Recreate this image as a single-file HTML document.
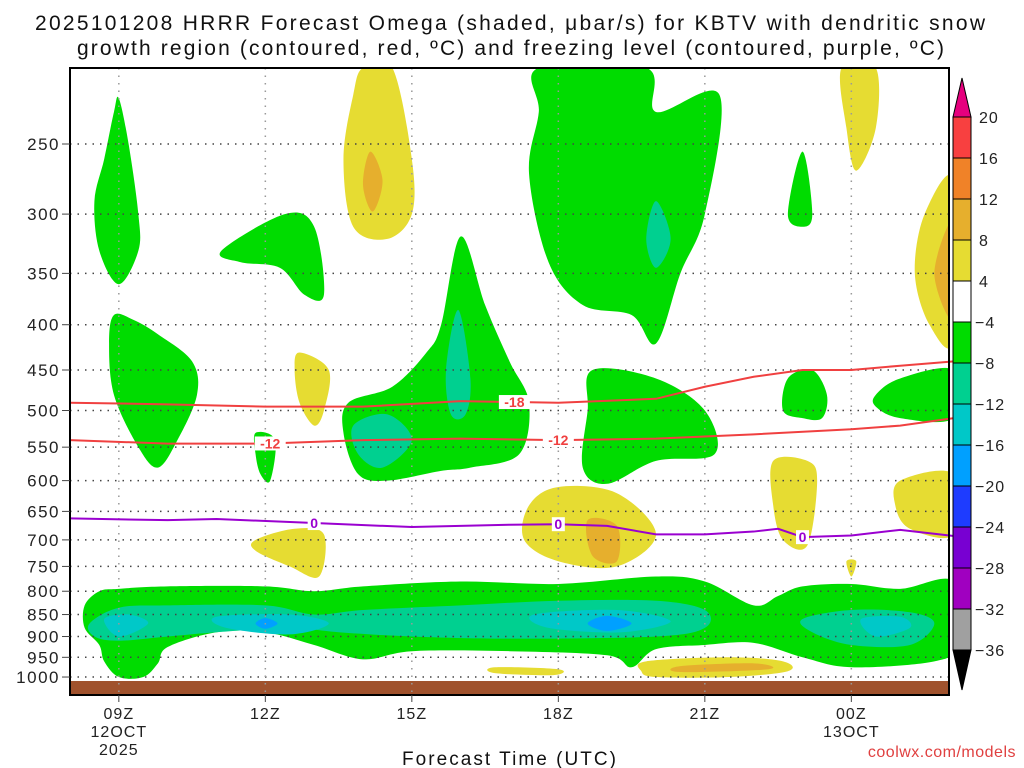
<!DOCTYPE html>
<html><head><meta charset="utf-8"><style>
html,body{margin:0;padding:0;background:#fff;}
svg{display:block;font-family:"Liberation Sans",sans-serif;}
</style></head><body>
<svg id="chart" width="1024" height="768" viewBox="0 0 1024 768">
<text x="35" y="30" textLength="950" lengthAdjust="spacing" font-size="21" fill="#111">2025101208 HRRR Forecast Omega (shaded, μbar/s) for KBTV with dendritic snow</text>
<text x="77" y="55" textLength="867" lengthAdjust="spacing" font-size="21" fill="#111">growth region (contoured, red, ºC) and freezing level (contoured, purple, ºC)</text>
<g id="fills"></g>
<rect x="70" y="681" width="879" height="14" fill="#a0522d"/>
<g id="grid"></g>
<g id="lines"></g>
<rect x="70" y="68" width="879" height="627" fill="none" stroke="#000" stroke-width="2"/>
<g id="axes"></g>
<g id="cbar"></g>
<text x="402" y="765" textLength="214" lengthAdjust="spacing" font-size="19" fill="#111">Forecast Time (UTC)</text>
<text x="1016" y="757" text-anchor="end" font-size="16" letter-spacing="0.5" fill="#e04040">coolwx.com/models</text>
</svg>
<script>
const pressureTicks=[250,300,350,400,450,500,550,600,650,700,750,800,850,900,950,1000];
const timeTicks=[9,12,15,18,21,24];
const timeLabels=["09Z","12Z","15Z","18Z","21Z","00Z"];
const cbarLevels=[20,16,12,8,4,-4,-8,-12,-16,-20,-24,-28,-32,-36];
const cbarColors=["#f84040","#f08228","#e6af2d","#e6dc32","#ffffff","#00dc00","#00d090","#00c8c8","#00a0ff","#1e3cff","#7800d2","#a000c0","#a0a0a0"];
const C={g:"#00dc00",t:"#00d090",c:"#00c8c8",b:"#00a0ff",y:"#e6dc32",o:"#e6af2d"};
const regions=[
["g",[[9.0,222],[9.2,250],[9.4,300],[9.4,330],[9.0,360],[8.6,330],[8.5,290],[8.7,260],[8.9,230]]],
["g",[[8.9,390],[9.3,395],[9.8,410],[10.5,440],[10.6,480],[10.2,540],[9.8,580],[9.4,550],[8.9,480],[8.8,420]]],
["g",[[11.1,330],[12.4,300],[13.0,310],[13.2,370],[12.8,370],[12.3,345],[11.5,340]]],
["y",[[14.0,205],[14.6,205],[15.0,260],[15.0,300],[14.5,320],[13.8,310],[13.6,260],[13.8,220]]],
["o",[[14.15,255],[14.4,275],[14.2,298],[14.0,278]]],
["g",[[16.0,318],[16.5,380],[17.0,440],[17.4,490],[17.2,560],[16.2,580],[15.6,585],[14.5,600],[13.9,590],[13.6,530],[13.7,490],[14.6,470],[15.3,430],[15.6,400]]],
["t",[[15.95,385],[16.2,460],[16.1,505],[15.8,505],[15.7,450]]],
["t",[[13.8,520],[14.5,505],[15.0,540],[14.4,580],[13.9,560]]],
["y",[[12.7,430],[13.3,450],[13.2,500],[13.0,520],[12.7,490],[12.6,450]]],
["g",[[11.8,530],[12.2,540],[12.1,600],[11.9,590],[11.8,560]]],
["g",[[17.6,205],[19.8,205],[20.0,230],[21.3,220],[21.0,300],[20.5,350],[20.0,420],[19.5,390],[18.5,380],[17.8,340],[17.4,270],[17.6,230]]],
["t",[[20.0,290],[20.3,320],[20.0,345],[19.8,320]]],
["y",[[23.8,205],[24.5,205],[24.5,240],[24.1,268],[23.9,240]]],
["g",[[23.0,255],[23.2,300],[23.0,310],[22.7,300]]],
["y",[[26.1,275],[25.5,300],[25.3,350],[25.6,400],[26.1,415]]],
["o",[[26.1,305],[25.7,350],[26.1,395]]],
["g",[[18.7,450],[20,460],[21.0,500],[21.2,560],[20.0,570],[19.0,605],[18.5,580],[18.6,500]]],
["g",[[22.7,460],[23.2,450],[23.5,480],[23.4,510],[23.0,510],[22.6,500]]],
["g",[[24.5,480],[25.0,460],[26.1,450],[26.1,510],[25,510],[24.5,495]]],
["y",[[22.4,570],[23.1,570],[23.3,600],[23.1,710],[22.6,700],[22.4,640]]],
["y",[[25.0,600],[26.1,590],[26.1,690],[25.2,680],[24.9,640]]],
["y",[[17.4,640],[18.0,610],[19.2,620],[20.0,690],[19.2,750],[18.0,740],[17.3,700]]],
["o",[[18.6,665],[19.2,675],[19.2,740],[18.7,730]]],
["y",[[11.8,700],[12.6,680],[13.2,690],[13.1,770],[12.5,750],[11.8,720]]],
["y",[[23.9,740],[24.1,740],[24.0,770]]],
["g",[[8.3,830],[8.6,800],[9.0,795],[10.0,790],[12.0,790],[13.0,800],[14.0,790],[16.0,780],[18.0,785],[20.0,770],[21.0,780],[22.0,830],[22.5,810],[23.0,790],[24,785],[25,795],[26.1,780],[26.1,920],[25.7,960],[24,975],[23,950],[22,915],[21,920],[20,930],[19.5,975],[19.0,945],[17,935],[15,935],[14,955],[13,920],[12,890],[11,890],[10,925],[9.8,965],[9.5,1000],[9,1000],[8.7,960],[8.6,920],[8.3,880]]],
["t",[[8.4,870],[9,835],[10,830],[12,830],[13,850],[14,840],[16,830],[18,820],[20,820],[21,840],[21,880],[20,900],[17,905],[15,900],[13.5,890],[12.5,880],[11,890],[10,900],[9,910],[8.5,900]]],
["t",[[23,860],[24,840],[25.2,845],[25.7,870],[25.2,920],[24,920],[23.2,890]]],
["c",[[8.7,860],[9.2,850],[9.6,870],[9,900]]],
["c",[[11,855],[12.5,850],[13.3,870],[12.5,895],[11.2,880]]],
["c",[[17.5,850],[19.2,840],[20.3,865],[19.3,890],[17.8,880]]],
["c",[[24.2,860],[25,855],[25.2,880],[24.5,900]]],
["b",[[12,858],[12.25,870],[12,882],[11.8,870]]],
["b",[[19.0,853],[19.5,870],[19.0,887],[18.6,870]]],
["y",[[16.7,975],[18.0,980],[17.9,995],[16.7,990]]],
["y",[[19.8,960],[21.5,950],[22.6,960],[22.7,985],[21.5,1000],[20,1000],[19.7,985]]],
["o",[[20.5,972],[22,965],[22.3,980],[20.5,987]]]
];
const hours18=[8,10,12,14,16,18,20,21,22,23,24,25,26.1];
const tm18=[490,492,495,495,488,490,485,470,458,450,450,445,440];
const hours12=[8,10,12,14,16,18,20,22,24,25,26.1];
const tm12=[540,545,545,540,538,540,538,532,525,520,510];
const hours0=[8,10,11,13,15,17,18,19,20,21,22,22.5,23,24,25,26.1];
const frz0=[662,665,663,670,677,673,672,675,690,690,685,680,695,692,682,693];

const X0=70,X1=949,H0=8,H1=26;
const xs=h=>X0+(h-H0)*(X1-X0)/(H1-H0);
const ys=p=>144+384.5*Math.log(p/250);
const NS="http://www.w3.org/2000/svg";
function mk(tag,attrs,parent){const e=document.createElementNS(NS,tag);for(const k in attrs)e.setAttribute(k,attrs[k]);parent.appendChild(e);return e;}
function closedPath(pts){
  const n=pts.length;let d="M"+pts[0][0]+","+pts[0][1];
  for(let i=0;i<n;i++){const p0=pts[(i-1+n)%n],p1=pts[i],p2=pts[(i+1)%n],p3=pts[(i+2)%n];
    d+=" C"+(p1[0]+(p2[0]-p0[0])/6)+","+(p1[1]+(p2[1]-p0[1])/6)+" "+(p2[0]-(p3[0]-p1[0])/6)+","+(p2[1]-(p3[1]-p1[1])/6)+" "+p2[0]+","+p2[1];}
  return d+"Z";}
const svg=document.getElementById('chart');
const defs=mk('defs',{},svg);
const cp=mk('clipPath',{id:'plotclip'},defs);mk('rect',{x:70,y:68,width:879,height:613},cp);
const fills=document.getElementById('fills');fills.setAttribute('clip-path','url(#plotclip)');
regions.forEach((r,i)=>{
  const pts=r[1].map(v=>[xs(v[0]),ys(v[1])]);
  const el=mk('path',{d:closedPath(pts),fill:C[r[0]]},fills);
  
  
});
const grid=document.getElementById('grid');
const axes=document.getElementById('axes');
pressureTicks.forEach(p=>{
  const y=ys(p);
  const g=mk('line',{x1:70,x2:949,y1:y,y2:y,stroke:'#444','stroke-width':1.5,'stroke-dasharray':'1.5 6'},grid);
  
  
  mk('line',{x1:62,x2:70,y1:y,y2:y,stroke:'#444','stroke-width':1},axes);
  const t=mk('text',{x:60,y:y+6,'text-anchor':'end','font-size':17,'letter-spacing':1.5,fill:'#222'},axes);t.textContent=p;
  
  
});
timeTicks.forEach((h,i)=>{
  const x=xs(h);
  const g=mk('line',{x1:x,x2:x,y1:68,y2:695,stroke:'#999','stroke-width':1.5,'stroke-dasharray':'1.5 6'},grid);
  
  
  mk('line',{x1:x,x2:x,y1:695,y2:702,stroke:'#444','stroke-width':1},axes);
  const t=mk('text',{x:x,y:719,'text-anchor':'middle','font-size':16,'letter-spacing':1,fill:'#222'},axes);t.textContent=timeLabels[i];
  
  
});
[["12OCT",9,737],["2025",9,755],["13OCT",24,737]].forEach(a=>{
  const t=mk('text',{x:xs(a[1]),y:a[2],'text-anchor':'middle','font-size':16,'letter-spacing':1,fill:'#222'},axes);t.textContent=a[0];
  
  
});
const lines=document.getElementById('lines');
function drawLine(hs,ps,color,name,labels,lab){
  const d=hs.map((h,i)=>(i?'L':'M')+xs(h)+','+ys(ps[i])).join(' ');
  const el=mk('path',{d:d,fill:'none',stroke:color,'stroke-width':2},lines);
  
  
  labels.forEach(h=>{
    let i=0;while(i<hs.length-2&&hs[i+1]<h)i++;
    const p=ps[i]+(ps[i+1]-ps[i])*(h-hs[i])/(hs[i+1]-hs[i]);
    const x=xs(h),y=ys(p);
    const w=lab.length*9+4;
    mk('rect',{x:x-w/2,y:y-7,width:w,height:14,fill:'#fff'},lines);
    const t=mk('text',{x:x,y:y+5,'text-anchor':'middle','font-size':14,'font-weight':'bold',fill:color},lines);t.textContent=lab;
    
    
  });
}
drawLine(hours18,tm18,'#f04040','dgz-minus18',[17.1],'-18');
drawLine(hours12,tm12,'#f04040','dgz-minus12',[12.1,18.0],'-12');
drawLine(hours0,frz0,'#9a00d0','freezing-level',[13.0,18.0,23.0],'0');
const cb=document.getElementById('cbar');
const cy=i=>117+i*(650-117)/(cbarLevels.length-1);
mk('path',{d:'M953,117 L962,78 L971,117 Z',fill:'#e6007e',stroke:'#000','stroke-width':1},cb);
mk('path',{d:'M953,650 L962,690 L971,650 Z',fill:'#000',stroke:'#000','stroke-width':1},cb);
cbarColors.forEach((c,i)=>{
  const y0=cy(i),y1=cy(i+1);
  const r=mk('rect',{x:953,y:y0,width:18,height:y1-y0,fill:c,stroke:'#000','stroke-width':1},cb);
  
  
});
cbarLevels.forEach((l,i)=>{
  const t=mk('text',{x:l<0?975:979,y:cy(i)+6,'font-size':16,'letter-spacing':1,fill:'#222'},cb);t.textContent=l<0?'\u2212'+(-l):l;
  
  
});
</script>
</body></html>
